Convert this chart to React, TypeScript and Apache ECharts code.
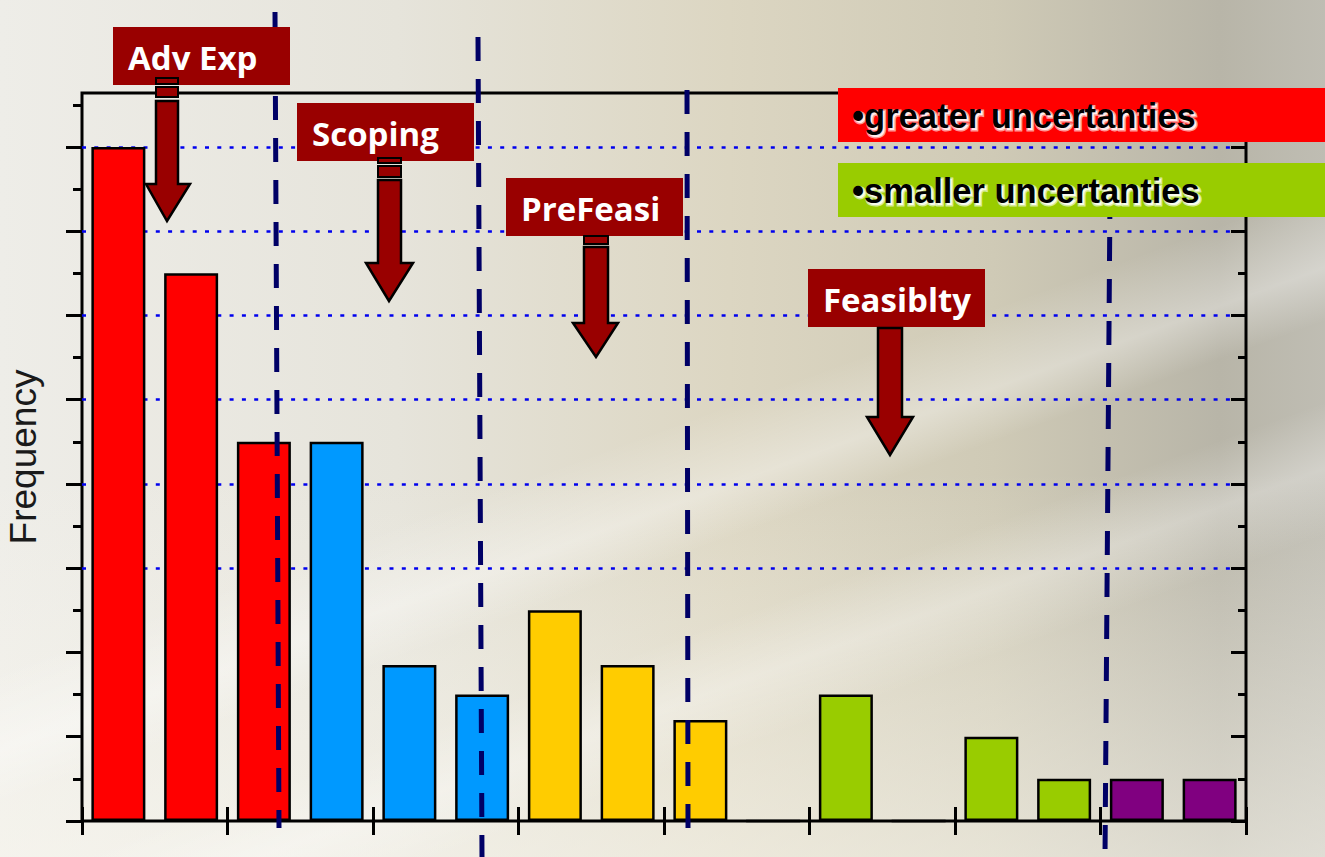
import React, { useEffect, useRef } from 'react';
import * as echarts from 'echarts';

// ---------- data ----------
const categories = ['1', '2', '3', '4', '5', '6', '7', '8', '9', '10', '11', '12', '13', '14', '15', '16'];
const frequency = [8, 6.5, 4.5, 4.5, 1.85, 1.5, 2.5, 1.85, 1.2, 0, 1.5, 0, 1, 0.5, 0.5, 0.5];
const barStage = ['adv', 'adv', 'adv', 'scoping', 'scoping', 'scoping', 'prefeas', 'prefeas', 'prefeas', 'feas', 'feas', 'feas', 'feas', 'feas', 'post', 'post'];
const stageColor: Record<string, string> = {
  adv: '#ff0000',
  scoping: '#0099ff',
  prefeas: '#ffcc00',
  feas: '#99cc00',
  post: '#800080',
};
const majorTicks = [0, 1, 2, 3, 4, 5, 6, 7, 8];
const minorTicks = [0.5, 1.5, 2.5, 3.5, 4.5, 5.5, 6.5, 7.5, 8.5];
const gridValues = [3, 4, 5, 6, 7, 8];
const yMax = 8.64;
const stageLabels = ['Adv Exp', 'Scoping', 'PreFeasi', 'Feasiblty'];
const legendTexts = ['•greater uncertanties', '•smaller uncertanties'];
const legendColors = ['#ff0000', '#99cc00'];

// ---------- layout of annotations (pixels) ----------
const labelBoxes = [
  { x: 113, y: 27 },
  { x: 297, y: 103 },
  { x: 506, y: 178 },
  { x: 808, y: 269 },
];
const arrows = [
  { x1: 156, x2: 178, hl: 146, hr: 190, tip: 167, stripes: [[78, 84], [87, 97]], shaftTop: 101, headY: 184, tipY: 221 },
  { x1: 378, x2: 401, hl: 366, hr: 413, tip: 389, stripes: [[158, 163], [166, 177]], shaftTop: 180, headY: 263, tipY: 301 },
  { x1: 584, x2: 608, hl: 573, hr: 618, tip: 596, stripes: [[236, 244]], shaftTop: 247, headY: 323, tipY: 357 },
  { x1: 878, x2: 902, hl: 867, hr: 913, tip: 890, stripes: [], shaftTop: 328, headY: 417, tipY: 455 },
];
const dashLines = [
  { x1: 275, y1: 12, x2: 279, y2: 828 },
  { x1: 478, y1: 37, x2: 482, y2: 857 },
  { x1: 687, y1: 90, x2: 688, y2: 828 },
  { x1: 1110, y1: 195, x2: 1105, y2: 857 },
];

const DARK_RED = '#990000';
const LEGEND_FONT = 'bold 34.5px "Liberation Sans", Arial, sans-serif';

function buildGraphics() {
  const els: any[] = [];
  dashLines.forEach((l) => {
    els.push({
      type: 'line',
      z: 100,
      shape: { x1: l.x1, y1: l.y1, x2: l.x2, y2: l.y2 },
      style: { stroke: '#000066', lineWidth: 5, lineDash: [24, 18] },
    });
  });
  labelBoxes.forEach((b, i) => {
    els.push({
      type: 'rect',
      z: 110,
      shape: { x: b.x, y: b.y, width: 177, height: 58 },
      style: { fill: DARK_RED },
    });
    els.push({
      type: 'text',
      z: 111,
      x: b.x + 15,
      y: b.y + 30,
      style: {
        text: stageLabels[i],
        fill: '#ffffff',
        font: 'bold 33px "Open Sans", Lato, sans-serif',
        verticalAlign: 'middle',
        align: 'left',
      },
    });
  });
  arrows.forEach((a) => {
    a.stripes.forEach((s) => {
      els.push({
        type: 'rect',
        z: 112,
        shape: { x: a.x1, y: s[0], width: a.x2 - a.x1, height: s[1] - s[0] },
        style: { fill: DARK_RED, stroke: '#000', lineWidth: 2 },
      });
    });
    els.push({
      type: 'polygon',
      z: 112,
      shape: {
        points: [
          [a.x1, a.shaftTop],
          [a.x2, a.shaftTop],
          [a.x2, a.headY],
          [a.hr, a.headY],
          [a.tip, a.tipY],
          [a.hl, a.headY],
          [a.x1, a.headY],
        ],
      },
      style: { fill: DARK_RED, stroke: '#000', lineWidth: 2.5, lineJoin: 'miter' },
    });
  });
  legendTexts.forEach((t, i) => {
    const y = i === 0 ? 88 : 163;
    els.push({
      type: 'rect',
      z: 120,
      shape: { x: 838, y, width: 487, height: 54 },
      style: { fill: legendColors[i] },
    });
    // white glow behind the text
    els.push({
      type: 'text',
      z: 121,
      x: 854,
      y: y + 30,
      style: {
        text: t,
        fill: '#ffffff',
        font: LEGEND_FONT,
        verticalAlign: 'middle',
        align: 'left',
        stroke: 'rgba(255,255,255,0.7)',
        lineWidth: 3,
        opacity: 0.85,
      },
    });
    els.push({
      type: 'text',
      z: 122,
      x: 852,
      y: y + 28,
      style: {
        text: t,
        fill: '#000000',
        font: LEGEND_FONT,
        verticalAlign: 'middle',
        align: 'left',
      },
    });
  });
  return els;
}

const valueAxisBase = {
  type: 'value' as const,
  min: 0,
  max: yMax,
  axisLabel: { show: false },
  axisLine: { show: false },
  splitLine: { show: false },
};

export default function App() {
  const ref = useRef<HTMLDivElement>(null);

  useEffect(() => {
    if (!ref.current) return;
    const chart = echarts.init(ref.current, undefined, { renderer: 'svg' });
    chart.setOption({
      animation: false,
      backgroundColor: 'transparent',
      grid: {
        left: 82,
        right: 79,
        top: 93,
        bottom: 36,
        outerBoundsMode: 'none',
        containLabel: false,
        show: true,
        borderColor: '#000',
        borderWidth: 3,
        backgroundColor: 'transparent',
      },
      xAxis: [
        {
          type: 'category',
          data: categories,
          position: 'bottom',
          axisLine: { show: false },
          axisLabel: { show: false },
          axisTick: { show: true, interval: 1, length: 14, inside: false, lineStyle: { color: '#000', width: 3 } },
        },
        {
          type: 'category',
          data: categories,
          position: 'bottom',
          axisLine: { show: false },
          axisLabel: { show: false },
          axisTick: { show: true, interval: 1, length: 14, inside: true, lineStyle: { color: '#000', width: 3 } },
        },
      ],
      yAxis: [
        {
          ...valueAxisBase,
          position: 'left',
          name: 'Frequency',
          nameLocation: 'middle',
          nameGap: 40,
          nameRotate: 90,
          nameTextStyle: { fontFamily: 'Liberation Sans', fontSize: 37, color: '#1a1a1a' },
          axisTick: { show: true, customValues: majorTicks, length: 16, inside: false, lineStyle: { color: '#000', width: 3 } },
        },
        {
          ...valueAxisBase,
          position: 'left',
          axisTick: { show: true, customValues: minorTicks, length: 9, inside: false, lineStyle: { color: '#000', width: 3 } },
        },
        {
          ...valueAxisBase,
          position: 'right',
          axisTick: { show: true, customValues: majorTicks, length: 15, inside: true, lineStyle: { color: '#000', width: 3 } },
        },
        {
          ...valueAxisBase,
          position: 'right',
          axisTick: { show: true, customValues: minorTicks, length: 8, inside: true, lineStyle: { color: '#000', width: 3 } },
        },
        {
          ...valueAxisBase,
          position: 'left',
          axisTick: { show: false, customValues: gridValues },
          splitLine: {
            show: true,
            lineStyle: { color: '#0000ee', width: 2.5, type: [4, 8.3] },
          },
        },
      ],
      series: [
        {
          type: 'bar',
          xAxisIndex: 0,
          yAxisIndex: 0,
          barWidth: 54,
          data: frequency.map((v, i) => ({
            value: v,
            itemStyle: {
              color: stageColor[barStage[i]],
              borderColor: '#000',
              borderWidth: 2.5,
            },
          })),
        },
      ],
      graphic: buildGraphics(),
    });
    return () => chart.dispose();
  }, []);

  const bg = [
    'linear-gradient(160deg, rgba(255,255,255,0) 50%, rgba(255,255,255,0.35) 56%, rgba(255,255,255,0) 60%, rgba(255,255,255,0) 66%, rgba(255,255,255,0.3) 71%, rgba(255,255,255,0) 76%)',
    'linear-gradient(to bottom, rgba(255,255,255,0) 55%, rgba(250,248,240,0.55) 100%)',
    'linear-gradient(to right, #eeede8 0%, #e6e4db 30%, #dcd6c2 55%, #cfcab6 75%, #b8b5a8 92%, #bfbdb3 100%)',
  ].join(',');

  return (
    <div style={{ position: 'fixed', left: 0, top: 0, width: 1325, height: 857, background: bg }}>
      <div ref={ref} style={{ width: 1325, height: 857 }} />
    </div>
  );
}
